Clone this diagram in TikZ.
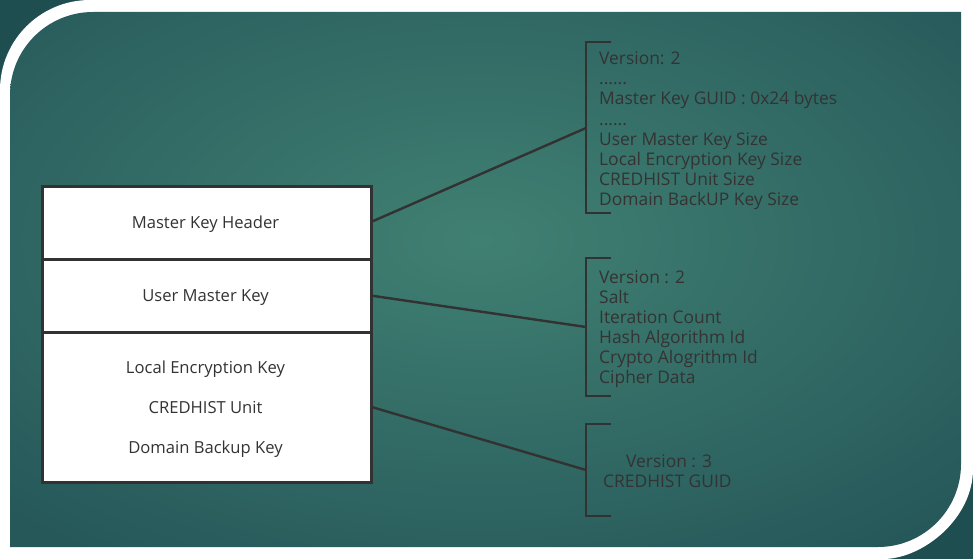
\documentclass[tikz,border=0pt]{standalone}
\usepackage{fontspec}
\setmainfont{Open Sans}
\begin{document}
\begin{tikzpicture}[x=1pt,y=-1pt,
  boxcell/.style={draw=boxline,line width=2.6pt,fill=white,minimum width=329pt,inner sep=0pt,anchor=north west},
  boxtext/.style={anchor=base,inner sep=0pt,text=textgray,font=\fontsize{16.6}{20}\selectfont},
  sidetext/.style={anchor=base west,inner sep=0pt,text=textgray,font=\fontsize{17.4}{20}\selectfont},
  bracketline/.style={draw=boxline,line width=2.6pt},
  link/.style={draw=boxline,line width=2.4pt}]
\definecolor{outerdark}{RGB}{31,78,80}
\definecolor{tealin}{RGB}{64,128,114}
\definecolor{tealout}{RGB}{38,88,90}
\definecolor{boxline}{RGB}{50,50,50}
\definecolor{textgray}{RGB}{51,51,51}
\useasboundingbox (0,0) rectangle (973,559);
% background
\fill[outerdark] (0,0) rectangle (973,559);
\fill[white] (0,90) .. controls (0,40.3) and (40.3,0) .. (90,0) -- (973,0) -- (973,469)
  .. controls (973,518.7) and (922.7,559) .. (883,559) -- (0,559) -- cycle;
\begin{scope}
\clip (10,95) .. controls (10,49.2) and (47.2,12) .. (93,12) -- (961,12) -- (961,464)
  .. controls (961,509.8) and (923.8,547) .. (878,547) -- (10,547) -- cycle;
\shade[inner color=tealin,outer color=tealout] (-200,-140) rectangle (1160,620);
\end{scope}
% left stack
\node[boxcell,minimum height=73pt] (hdr) at (41,185) {};
\node[boxcell,minimum height=73pt] (umk) at (41,258) {};
\node[boxcell,minimum height=150pt] (rest) at (41,331) {};
\node[boxtext] (thdr) at (205.5,228) {Master Key Header};
\node[boxtext] (tumk) at (205.5,301) {User Master Key};
\node[boxtext] (tlek) at (205.5,373) {Local Encryption Key};
\node[boxtext] (tcu) at (205.5,413) {CREDHIST Unit};
\node[boxtext] (tdbk) at (205.5,453) {Domain Backup Key};
% brackets
\coordinate (b1) at (586,128);
\coordinate (b2) at (586,327);
\coordinate (b3) at (586,470);
\draw[bracketline] (611,42) -- (586,42) -- (586,213) -- (611,213);
\draw[bracketline] (611,258) -- (586,258) -- (586,396) -- (611,396);
\draw[bracketline] (611,424) -- (586,424) -- (586,516) -- (611,516);
% connectors
\draw[link] (hdr.east) ++(0,-1.5) coordinate (h1) (h1) -- (b1);
\draw[link] (umk.east) -- (b2);
\draw[link] (rest.east) -- (b3);
% side texts block 1
\node[sidetext] (s1a) at (599,65) {Version: 2};
\node[sidetext] (s1b) at (599,85) {......};
\node[sidetext] (s1c) at (599,105) {Master Key GUID : 0x24 bytes};
\node[sidetext] (s1d) at (599,125) {......};
\node[sidetext] (s1e) at (599,145) {User Master Key Size};
\node[sidetext] (s1f) at (599,165) {Local Encryption Key Size};
\node[sidetext] (s1g) at (599,185) {CREDHIST Unit Size};
\node[sidetext] (s1h) at (599,205) {Domain BackUP Key Size};
% block 2
\node[sidetext] (s2a) at (599,283) {Version : 2};
\node[sidetext] (s2b) at (599,303) {Salt};
\node[sidetext] (s2c) at (599,323) {Iteration Count};
\node[sidetext] (s2d) at (599,343) {Hash Algorithm Id};
\node[sidetext] (s2e) at (599,363) {Crypto Alogrithm Id};
\node[sidetext] (s2f) at (599,383) {Cipher Data};
% block 3
\node[sidetext] (s3a) at (626,467) {Version : 3};
\node[sidetext] (s3b) at (603,487) {CREDHIST GUID};
\end{tikzpicture}
\end{document}
